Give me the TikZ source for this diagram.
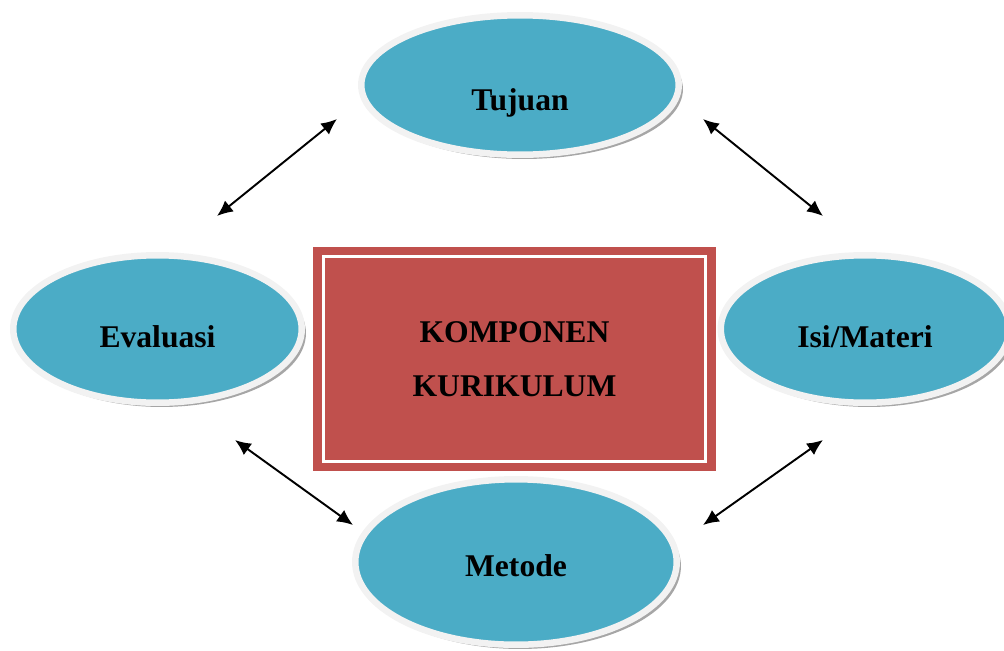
\documentclass[tikz,border=0pt]{standalone}
\usepackage{fontspec}
\setmainfont{Liberation Serif}
\usetikzlibrary{shapes.geometric,shadows,arrows.meta}
\definecolor{aqua}{HTML}{4BACC6}
\definecolor{rim}{HTML}{F2F2F2}
\definecolor{brick}{HTML}{C0504D}
\tikzset{
  komp/.style={ellipse, fill=aqua, draw=rim, line width=3.7pt, inner sep=0pt,
    font=\fontsize{18}{22}\selectfont\bfseries, text depth=0pt, text height=0.72cm,
    drop shadow={shadow xshift=2.4pt, shadow yshift=-2.4pt, fill=gray!70, opacity=1}},
  panah/.style={<->, line width=1.1pt}
}
\begin{document}
\begin{tikzpicture}[x=0.02cm, y=-0.02cm, >={Latex[length=9pt,width=8pt]}]
\useasboundingbox (0,0) rectangle (1004,650);

\node[komp, minimum width=6.35cm, minimum height=2.79cm, text height=1cm] (tujuan) at (520,85) {Tujuan};
\node[komp, minimum width=5.77cm, minimum height=2.95cm] (evaluasi) at (157.5,329) {Evaluasi};
\node[komp, minimum width=5.77cm, minimum height=2.95cm] (isi) at (865,329) {Isi/Materi};
\node[komp, minimum width=6.43cm, minimum height=3.31cm, text height=0.56cm] (metode) at (516,562) {Metode};

\node[fill=brick, minimum width=8.06cm, minimum height=4.5cm, inner sep=0pt, align=center,
  font=\fontsize{18}{31}\selectfont\bfseries] (kurikulum) at (514.5,359) {KOMPONEN\\KURIKULUM};
\draw[white, line width=1.7pt] ([shift={(10.5,10.5)}]kurikulum.north west) rectangle ([shift={(-10.5,-10.5)}]kurikulum.south east);

\coordinate (t1) at (337,119);  \coordinate (e1) at (217,216);
\coordinate (t2) at (703,119);  \coordinate (i1) at (823,216);
\coordinate (e2) at (235,440);  \coordinate (m1) at (353,525);
\coordinate (i2) at (823,440);  \coordinate (m2) at (703,525);

\draw[panah](t1)--(e1);
\draw[panah](t2)--(i1);
\draw[panah](e2)--(m1);
\draw[panah](i2)--(m2);
\end{tikzpicture}
\end{document}
